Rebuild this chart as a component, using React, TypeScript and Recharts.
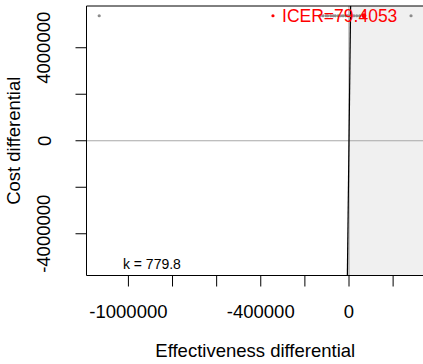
import React from 'react'
import {
  ComposedChart,
  Area,
  Line,
  Scatter,
  XAxis,
  YAxis,
  ReferenceLine,
  ReferenceDot,
  Label
} from 'recharts'

// willingness to pay and ICER summary
const k = 779.8
const icerText = 'ICER=79.4053'

// simulated effectiveness / cost differentials
const simEffect = [
  -1132400, -131000, -118000, -104000, -97000, -83000, -71000, -62000, -49000,
  -38000, -27000, -15000, -6000, 4000, 13000, 22000, 35000, 48000, 281200
]
const simCost = [
  5376000, 5376000, 5376000, 5376000, 5376000, 5376000, 5376000, 5376000, 5376000,
  5376000, 5376000, 5376000, 5376000, 5376000, 5376000, 5376000, 5376000, 5376000, 5376000
]

// mean point
const meanEffect = [67700]
const meanCost = [5375739]

// axes
const xDomain = [-1190000, 340000]
const yDomain = [-5795000, 5795000]
const xTicks = [-1000000, -800000, -600000, -400000, -200000, 0, 200000]
const xTickLabels = [-1000000, -400000, 0]
const yTicks = [-4000000, -2000000, 0, 2000000, 4000000]
const yTickLabels = [-4000000, 0, 4000000]

const FONT = '"Liberation Sans", Arial, sans-serif'

const simPoints = simEffect.map((x, i) => ({ x, y: simCost[i] }))
const meanPoints = meanEffect.map((x, i) => ({ x, y: meanCost[i] }))

// line cost = k * effect across the y range
const wtpLine = [
  { x: yDomain[0] / k, y: yDomain[0] },
  { x: yDomain[1] / k, y: yDomain[1] }
]
// area to the right of the wtp line
const shadeArea = [
  { x: yDomain[0] / k, y: yDomain[0] },
  { x: yDomain[1] / k, y: yDomain[1] },
  { x: xDomain[1], y: yDomain[1] }
]

const XTick = ({ x, y, payload }: any) => {
  if (!xTickLabels.includes(payload.value)) return null
  return (
    <text x={x} y={y} dy="0.71em" textAnchor="middle" fontSize={18.5} fontFamily={FONT} fill="#000">
      {payload.value}
    </text>
  )
}

const YTick = ({ x, y, payload }: any) => {
  if (!yTickLabels.includes(payload.value)) return null
  return (
    <text
      x={x}
      y={y}
      transform={`rotate(-90, ${x}, ${y})`}
      textAnchor="middle"
      fontSize={18.5}
      fontFamily={FONT}
      fill="#000"
    >
      {payload.value}
    </text>
  )
}

const dot = (color: string, r: number) => (p: any) =>
  <circle cx={p.cx} cy={p.cy} r={r} fill={color} />

export default function App() {
  return (
    <div style={{ position: 'absolute', left: 0, top: 0 }}>
      <ComposedChart width={424} height={364} margin={{ top: 6, right: 0, left: 0, bottom: 0 }}>
        <XAxis
          type="number"
          dataKey="x"
          domain={xDomain}
          ticks={xTicks}
          interval={0}
          allowDataOverflow
          height={88.5}
          tickSize={11}
          tickMargin={18.5}
          stroke="#000"
          tick={<XTick />}
        >
          <Label
            content={({ viewBox }: any) => (
              <text
                x={viewBox.x + viewBox.width / 2}
                y={356.5}
                textAnchor="middle"
                fontSize={18.5}
                fontFamily={FONT}
                fill="#000"
              >
                Effectiveness differential
              </text>
            )}
          />
        </XAxis>
        <YAxis
          type="number"
          dataKey="y"
          domain={yDomain}
          ticks={yTicks}
          interval={0}
          allowDataOverflow
          width={86.5}
          tickSize={11}
          tickMargin={25}
          stroke="#000"
          tick={<YTick />}
        >
          <Label
            content={({ viewBox }: any) => {
              const cy = viewBox.y + viewBox.height / 2
              return (
                <text
                  x={20}
                  y={cy}
                  transform={`rotate(-90, 20, ${cy})`}
                  textAnchor="middle"
                  fontSize={18.5}
                  fontFamily={FONT}
                  fill="#000"
                >
                  Cost differential
                </text>
              )
            }}
          />
        </YAxis>

        <Area
          data={shadeArea}
          type="linear"
          dataKey="y"
          baseValue={yDomain[0]}
          fill="#f0f0f0"
          fillOpacity={1}
          stroke="none"
          isAnimationActive={false}
        />
        <ReferenceLine y={0} stroke="#a8a8a8" strokeWidth={1.2} />
        <ReferenceLine x={0} stroke="#a8a8a8" strokeWidth={1.2} />
        <ReferenceLine y={yDomain[1]} stroke="#000" />
        <Line
          data={wtpLine}
          type="linear"
          dataKey="y"
          stroke="#000"
          strokeWidth={1.2}
          dot={false}
          activeDot={false}
          isAnimationActive={false}
        />

        <ReferenceDot x={-344700} y={5376000} r={1.6} fill="#ff0000" stroke="none">
          <Label value={icerText} position="right" offset={7.5} fill="#ff0000" fontSize={17.5} fontFamily={FONT} />
        </ReferenceDot>
        <ReferenceDot x={-1025000} y={-5312000} r={0.01} fill="none" stroke="none">
          <Label value={`k = ${k}`} position="right" offset={0} fill="#000" fontSize={14} fontFamily={FONT} />
        </ReferenceDot>

        <Scatter data={simPoints} dataKey="y" shape={dot('#8c8c8c', 1.6)} zIndex={1500} isAnimationActive={false} />
        <Scatter data={meanPoints} dataKey="y" shape={dot('#ff0000', 2.4)} zIndex={1600} isAnimationActive={false} />
      </ComposedChart>
    </div>
  )
}
